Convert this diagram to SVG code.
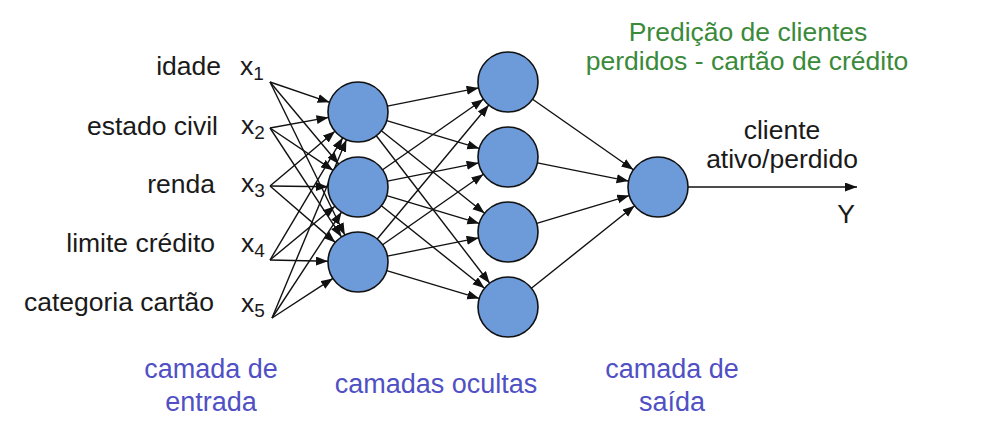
<svg xmlns="http://www.w3.org/2000/svg" width="1007" height="433" viewBox="0 0 1007 433">
<defs>
<marker id="arr" markerUnits="userSpaceOnUse" markerWidth="13" markerHeight="10" refX="12" refY="4.5" orient="auto">
<path d="M0,0 L12,4.5 L0,9 z" fill="#111"/>
</marker>
<style>
.lbl{font-family:"Liberation Sans",Arial,sans-serif;font-size:26.5px;fill:#1a1a1a}
.blue{font-family:"Liberation Sans",Arial,sans-serif;font-size:27px;fill:#5050c4;text-anchor:middle}
.green{font-family:"Liberation Sans",Arial,sans-serif;font-size:26.5px;fill:#3a8a3a;text-anchor:middle}
.node{fill:#6d9ad9;stroke:#111;stroke-width:1.6}
.edge line{stroke:#111;stroke-width:1.4;marker-end:url(#arr)}
</style>
</defs>
<rect width="1007" height="433" fill="#fff"/>

<g id="title">
<text class="green" x="748" y="41">Predição de clientes</text>
<text class="green" x="747" y="70">perdidos - cartão de crédito</text>
</g>

<g id="inputs">
<text class="lbl" x="221" y="75" text-anchor="end">idade</text>
<text class="lbl" x="218" y="135" text-anchor="end">estado civil</text>
<text class="lbl" x="215" y="193" text-anchor="end">renda</text>
<text class="lbl" x="215" y="252" text-anchor="end">limite crédito</text>
<text class="lbl" x="214" y="311" text-anchor="end">categoria cartão</text>
<text class="lbl" x="240" y="75">x<tspan font-size="19" dy="5">1</tspan></text>
<text class="lbl" x="241" y="134">x<tspan font-size="19" dy="5">2</tspan></text>
<text class="lbl" x="241" y="192">x<tspan font-size="19" dy="5">3</tspan></text>
<text class="lbl" x="241" y="252">x<tspan font-size="19" dy="5">4</tspan></text>
<text class="lbl" x="241" y="312">x<tspan font-size="19" dy="5">5</tspan></text>
</g>

<g id="connectors" class="edge">
<line x1="270" y1="82" x2="329.6" y2="102.3"/>
<line x1="270" y1="82" x2="338.7" y2="164.0"/>
<line x1="270" y1="82" x2="344.8" y2="235.0"/>
<line x1="270" y1="128" x2="328.5" y2="117.4"/>
<line x1="270" y1="128" x2="333.1" y2="170.3"/>
<line x1="270" y1="128" x2="341.5" y2="236.9"/>
<line x1="270" y1="186" x2="335.0" y2="131.3"/>
<line x1="270" y1="186" x2="328.0" y2="186.7"/>
<line x1="270" y1="186" x2="335.3" y2="242.4"/>
<line x1="270" y1="260" x2="342.7" y2="137.8"/>
<line x1="270" y1="260" x2="334.9" y2="206.2"/>
<line x1="270" y1="260" x2="328.0" y2="261.3"/>
<line x1="272" y1="318" x2="346.4" y2="139.7"/>
<line x1="272" y1="318" x2="341.5" y2="212.1"/>
<line x1="272" y1="318" x2="332.9" y2="278.4"/>

<line x1="387.4" y1="106.1" x2="478.6" y2="87.9"/>
<line x1="386.7" y1="120.6" x2="479.3" y2="148.4"/>
<line x1="381.4" y1="130.7" x2="484.6" y2="213.3"/>
<line x1="376.3" y1="135.8" x2="489.7" y2="283.2"/>
<line x1="382.6" y1="169.8" x2="483.4" y2="99.2"/>
<line x1="387.4" y1="181.1" x2="478.6" y2="162.9"/>
<line x1="386.7" y1="195.6" x2="479.3" y2="223.4"/>
<line x1="381.4" y1="205.7" x2="484.6" y2="288.3"/>
<line x1="377.2" y1="239.0" x2="488.8" y2="105.0"/>
<line x1="382.6" y1="244.8" x2="483.4" y2="174.2"/>
<line x1="387.4" y1="256.1" x2="478.6" y2="237.9"/>
<line x1="386.7" y1="270.6" x2="479.3" y2="298.4"/>

<line x1="532.6" y1="99.2" x2="633.4" y2="169.8"/>
<line x1="537.4" y1="162.9" x2="628.6" y2="181.1"/>
<line x1="536.7" y1="223.4" x2="629.3" y2="195.6"/>
<line x1="531.4" y1="288.3" x2="634.6" y2="205.7"/>

<line x1="688" y1="187" x2="857" y2="187"/>
</g>

<g id="hidden1">
<circle class="node" cx="358" cy="112" r="30"/>
<circle class="node" cx="358" cy="187" r="30"/>
<circle class="node" cx="358" cy="262" r="30"/>
</g>
<g id="hidden2">
<circle class="node" cx="508" cy="82" r="30"/>
<circle class="node" cx="508" cy="157" r="30"/>
<circle class="node" cx="508" cy="232" r="30"/>
<circle class="node" cx="508" cy="307" r="30"/>
</g>
<g id="output">
<circle class="node" cx="658" cy="187" r="30"/>
<text class="lbl" x="782" y="139" text-anchor="middle">cliente</text>
<text class="lbl" x="782" y="168" text-anchor="middle">ativo/perdido</text>
<text class="lbl" x="846" y="223" text-anchor="middle">Y</text>
</g>

<g id="layer-labels">
<text class="blue" x="211" y="378">camada de</text>
<text class="blue" x="211" y="411">entrada</text>
<text class="blue" x="436" y="393">camadas ocultas</text>
<text class="blue" x="672" y="378">camada de</text>
<text class="blue" x="672" y="411">saída</text>
</g>
</svg>
